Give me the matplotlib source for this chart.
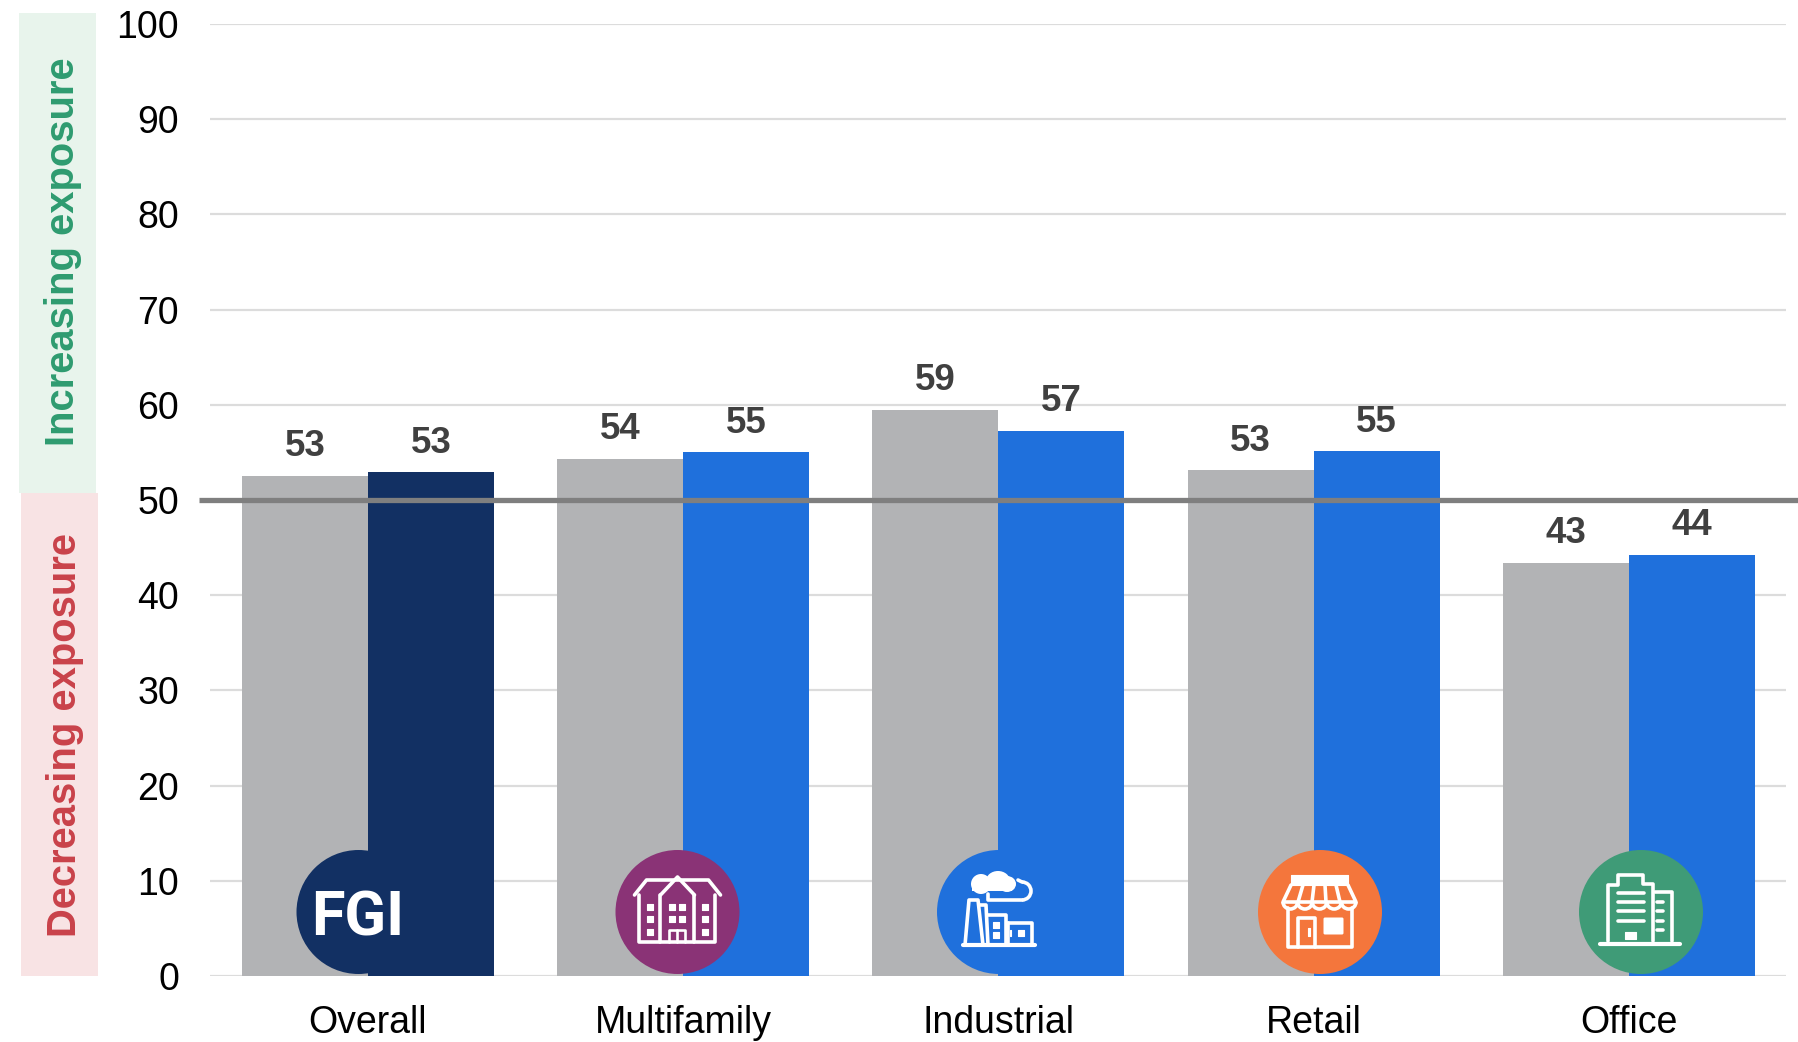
import numpy as np
import matplotlib
matplotlib.use('Agg')
import matplotlib.pyplot as plt
from matplotlib.patches import Circle, Rectangle, Polygon, Ellipse, Arc, FancyBboxPatch

plt.rcParams['font.family'] = ['Liberation Sans', 'DejaVu Sans']

categories = ['Overall', 'Multifamily', 'Industrial', 'Retail', 'Office']
prior_values = [52.5, 54.3, 59.5, 53.1, 43.4]
current_values = [52.9, 55.0, 57.3, 55.1, 44.2]
prior_labels = ['53', '54', '59', '53', '43']
current_labels = ['53', '55', '57', '55', '44']
y_ticks = [0, 10, 20, 30, 40, 50, 60, 70, 80, 90, 100]

GRAY = '#b2b3b5'
BLUE = '#1f70dc'
NAVY = '#123063'
WHITE = '#ffffff'
W, H = 1799, 1042

fig = plt.figure(figsize=(W / 100, H / 100), dpi=100, facecolor='white')
ax = fig.add_axes([210.4 / W, 1 - 976 / H, 1576 / W, 952 / H])

# Bars
x = np.arange(len(categories))
bar_colors = [NAVY] + [BLUE] * 4
ax.bar(x - 0.2, prior_values, width=0.4, color=GRAY, zorder=3)
ax.bar(x + 0.2, current_values, width=0.4, color=bar_colors, zorder=3)

for i in range(len(categories)):
    ax.annotate(prior_labels[i], (x[i] - 0.2, prior_values[i]), xytext=(0, 14.2),
                textcoords='offset points', ha='center', va='baseline',
                fontsize=26.5, fontweight='bold', color='#404040')
    ax.annotate(current_labels[i], (x[i] + 0.2, current_values[i]), xytext=(0, 14.2),
                textcoords='offset points', ha='center', va='baseline',
                fontsize=26.5, fontweight='bold', color='#404040')

# Axes
ax.set_xlim(-0.5, 4.5)
ax.set_ylim(0, 100)
ax.set_yticks(y_ticks)
ax.set_xticks(x)
ax.set_xticklabels(categories)
ax.tick_params(axis='y', length=0, pad=22.5, labelsize=27, labelcolor='black')
ax.tick_params(axis='x', length=0, pad=21, labelsize=27, labelcolor='black')
ax.yaxis.grid(True, color='#dcdcdc', linewidth=1.6)
ax.set_axisbelow(True)
for s in ax.spines.values():
    s.set_visible(False)

# Neutral line at 50 runs past the axes on both sides
trans = ax.get_yaxis_transform()
ax.plot([-11 / 1576, 1589 / 1576], [50, 50], transform=trans, color='#7f7f7f',
        linewidth=3.8, clip_on=False, zorder=5, solid_capstyle='butt')

# Overlay in pixel coordinates for side bands and icons
ov = fig.add_axes([0, 0, 1, 1], facecolor='none')
ov.set_xlim(0, W)
ov.set_ylim(H, 0)
ov.axis('off')

ov.add_patch(Rectangle((19, 13), 77, 480, color='#e8f4ec', lw=0))
ov.add_patch(Rectangle((21, 493), 77, 483, color='#f8e3e4', lw=0))
ov.text(63, 252, 'Increasing exposure', rotation=90, ha='center', va='center',
        fontsize=28.8, fontweight='bold', color='#2e9b70')
ov.text(65, 735, 'Decreasing exposure', rotation=90, ha='center', va='center',
        fontsize=28.8, fontweight='bold', color='#c9424a')


def poly(cx, cy, pts, closed=False, lw=2.6, fill=False):
    xy = [(cx + a, cy + b) for a, b in pts]
    ov.add_patch(Polygon(xy, closed=closed, fill=fill, facecolor=WHITE, edgecolor=WHITE,
                         linewidth=lw, joinstyle='round', capstyle='round', zorder=6))


def box(cx, cy, x0, x1, y0, y1):
    ov.add_patch(Rectangle((cx + x0, cy + y0), x1 - x0, y1 - y0, facecolor=WHITE,
                           edgecolor=WHITE, linewidth=0.8, joinstyle='round', zorder=6))


def multifamily_icon(cx, cy):
    poly(cx, cy, [(-43, -17), (-31, -32), (31, -32), (43, -17), (-43, -17)])
    poly(cx, cy, [(-17, -17), (0, -35), (17, -17)])
    poly(cx, cy, [(-38, -17), (-38, 30), (38, 30), (38, -17)])
    poly(cx, cy, [(-17, -17), (-17, 30)])
    poly(cx, cy, [(17, -17), (17, 30)])
    for wy in (-5, 7, 20):
        for wx in (-27.5, -5, 5, 28):
            if wy == 20 and abs(wx) < 10:
                continue
            box(cx, cy, wx - 3, wx + 3, wy - 3, wy + 3)
    poly(cx, cy, [(-8, 30), (-8, 18), (8, 18), (8, 30)], lw=1.9)
    poly(cx, cy, [(0, 18), (0, 30)], lw=1.9)


def factory_icon(cx, cy):
    poly(cx, cy, [(-35, 33), (37, 33)], lw=3)
    poly(cx, cy, [(-33, 33), (-29, -12), (-20, -12), (-15, 33)])
    poly(cx, cy, [(-18, -7), (-12, -7), (-10, 33)])
    poly(cx, cy, [(-10, 3), (8, 3), (8, 33)])
    poly(cx, cy, [(10, 11), (34, 11), (34, 33)])
    poly(cx, cy, [(10, 11), (10, 33)])
    box(cx, cy, -5, 1, 10, 16)
    box(cx, cy, -5, 1, 20, 26)
    box(cx, cy, 20, 26, 18, 24)
    box(cx, cy, 12, 13.5, 18, 24)
    # Cloud
    for ex, ey, ew, eh in [(-17, -28, 20, 20), (0, -31, 24, 20), (9, -28, 18, 16)]:
        ov.add_patch(Ellipse((cx + ex, cy + ey), ew, eh, color=WHITE, lw=0, zorder=6))
    ov.add_patch(Rectangle((cx - 26, cy - 30), 40, 9, color=WHITE, lw=0, zorder=6))
    # Looping arrow from the cloud back to the chimney
    ov.add_patch(Arc((cx + 24, cy - 21), 18, 18, theta1=-90, theta2=90, color=WHITE, lw=2.6, zorder=6))
    poly(cx, cy, [(24, -12), (-10, -12), (-10, -18)])
    poly(cx, cy, [(20, -32), (24, -30)])


def retail_icon(cx, cy):
    box(cx, cy, -28, 29, -37, -27)
    poly(cx, cy, [(-28, -27), (-36, -10), (37, -10), (29, -27)])
    for a, b in [(-16, -21), (-5, -7), (6, 7), (17, 21)]:
        poly(cx, cy, [(a, -27), (b, -10)])
    scallop = 73 / 5
    for i in range(5):
        ov.add_patch(Arc((cx - 36 + scallop * (i + 0.5), cy - 10), scallop, 14,
                         theta1=0, theta2=180, color=WHITE, lw=2.6, zorder=6))
    poly(cx, cy, [(-31, -4), (-31, 35), (33, 35), (33, -4)])
    poly(cx, cy, [(-21, 35), (-21, 6), (-4, 6), (-4, 35)])
    box(cx, cy, -11, -9, 16, 24)
    ov.add_patch(FancyBboxPatch((cx + 6, cy + 7), 17, 14, boxstyle='round,pad=1.5',
                                facecolor=WHITE, edgecolor=WHITE, lw=0, zorder=6))


def office_icon(cx, cy):
    poly(cx, cy, [(-40, 32), (40, 32)], lw=3)
    poly(cx, cy, [(-32, 29), (-32, -27), (-22, -27), (-22, -37), (3, -37), (3, -28), (13, -28), (13, 29)])
    poly(cx, cy, [(15, -20), (32, -20), (32, 29)])
    for ly in (-19, -10, -1, 9):
        poly(cx, cy, [(-22, ly), (4, ly)])
    for ly in (-10, -1, 9, 18):
        poly(cx, cy, [(17, ly), (23, ly)])
    box(cx, cy, -15, -4, 20, 27)


CY = 912
ov.add_patch(Circle((358.5, CY), 62, color=NAVY, lw=0, zorder=5))
ov.text(358, CY, 'FGI', ha='center', va='center_baseline', fontsize=44, fontweight='bold',
        color=WHITE, family='Roboto', zorder=6)

ov.add_patch(Circle((677.5, CY), 62, color='#8a3376', lw=0, zorder=5))
multifamily_icon(677.5, CY)
ov.add_patch(Circle((999, CY), 62, color=BLUE, lw=0, zorder=5))
factory_icon(998, CY)
ov.add_patch(Circle((1320, CY), 62, color='#f4763c', lw=0, zorder=5))
retail_icon(1319, CY)
ov.add_patch(Circle((1641, CY), 62, color='#3f9b77', lw=0, zorder=5))
office_icon(1640, CY)

fig.savefig('out.png', dpi=100)
